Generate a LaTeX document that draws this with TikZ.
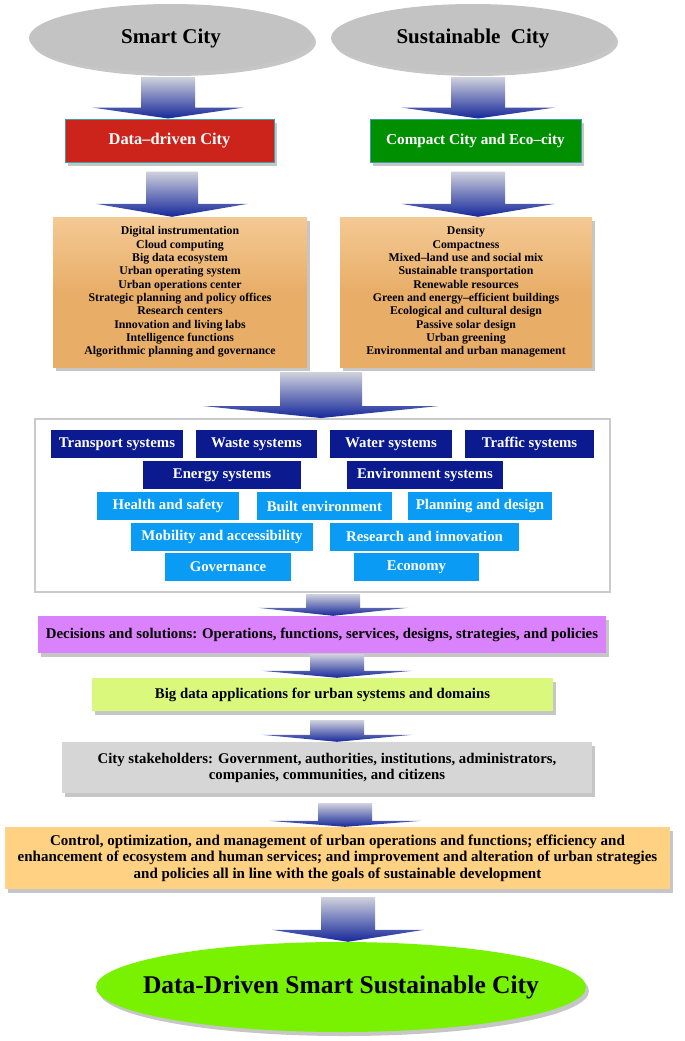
\documentclass[tikz,border=0pt]{standalone}
\usepackage{fontspec}
\setmainfont{Liberation Serif}
\usetikzlibrary{shapes.geometric,shadows,calc}

\definecolor{ellgray}{HTML}{C3C3C3}
\definecolor{ddred}{HTML}{CC231A}
\definecolor{ccgreen}{HTML}{008F00}
\definecolor{boxedge}{HTML}{3AA0A8}
\definecolor{orngtop}{HTML}{F4C994}
\definecolor{orngbot}{HTML}{E8AE68}
\definecolor{navy}{HTML}{0B1A8E}
\definecolor{skyblue}{HTML}{0A9BF5}
\definecolor{lilac}{HTML}{D982FB}
\definecolor{lime}{HTML}{DAF97C}
\definecolor{stonegray}{HTML}{D6D6D6}
\definecolor{sand}{HTML}{FED282}
\definecolor{lawn}{HTML}{78F200}
\definecolor{arrtop}{HTML}{CFD1DD}
\definecolor{arrbot}{HTML}{16289A}
\definecolor{framegray}{HTML}{C9C9CE}

\tikzset{
	dropsh/.style={drop shadow={shadow xshift=3pt, shadow yshift=-4pt, opacity=0.45}},
	city/.style={ellipse, fill=ellgray, inner sep=0pt, font=\fontsize{21}{24}\selectfont\bfseries, dropsh},
	citybox/.style={rectangle, draw=boxedge, line width=1pt, text=white, inner sep=0pt, minimum width=#1, minimum height=43pt, dropsh},
	listbox/.style={rectangle, top color=orngtop, bottom color=orngbot, middle color=orngbot, inner sep=0pt, minimum height=150pt, align=center, font=\fontsize{11.8}{13.3}\selectfont\bfseries, dropsh},
	sysdark/.style={rectangle, fill=navy, text=white, inner sep=0pt, minimum width=#1, minimum height=28pt, font=\fontsize{14.8}{16}\selectfont\bfseries},
	syslight/.style={sysdark=#1, fill=skyblue},
	stepbox/.style={rectangle, inner sep=0pt, align=center, font=\fontsize{14.8}{16.5}\selectfont\bfseries, dropsh},
}

% block arrow: x, from, gap, to, half shaft, half head, head length
\newcommand{\flowarrow}[7]{%
	\shade[top color=arrtop, bottom color=arrbot] let \p1=(#2), \p2=(#4) in
		(#1pt-#5pt,\y1-#3pt) -- (#1pt+#5pt,\y1-#3pt) -- (#1pt+#5pt,\y2+#7pt) -- (#1pt+#6pt,\y2+#7pt)
		-- (#1pt,\y2) -- (#1pt-#6pt,\y2+#7pt) -- (#1pt-#5pt,\y2+#7pt) -- cycle;}

\begin{document}
\begin{tikzpicture}[x=1pt, y=-1pt]
	\useasboundingbox (0,0) rectangle (685,1041);

	% sources
	\node[city, minimum width=284pt, minimum height=68pt] (smart) at (171,38) {Smart City};
	\node[city, minimum width=284pt, minimum height=68pt] (sust) at (473,38) {Sustainable\ \ City};

	\node[citybox=209pt, fill=ddred, font=\fontsize{16.4}{18}\selectfont\bfseries] (ddc) at (169.5,140.5) {Data--driven City};
	\node[citybox=211pt, fill=ccgreen, font=\fontsize{15.2}{18}\selectfont\bfseries] (compact) at (475.5,140.5) {Compact City and Eco--city};

	\node[listbox, minimum width=254pt] (tech) at (180,292) {Digital instrumentation\\Cloud computing\\Big data ecosystem\\Urban operating system\\Urban operations center\\Strategic planning and policy offices\\Research centers\\Innovation and living labs\\Intelligence functions\\Algorithmic planning and governance};
	\node[listbox, minimum width=252pt] (eco) at (466,292) {Density\\Compactness\\Mixed--land use and social mix\\Sustainable transportation\\Renewable resources\\Green and energy--efficient buildings\\Ecological and cultural design\\Passive solar design\\Urban greening\\Environmental and urban management};

	% urban systems and domains
	\node[rectangle, draw=framegray, line width=2pt, fill=white, minimum width=575pt, minimum height=173pt, inner sep=0pt] (domains) at (322.5,505.5) {};
	\node[sysdark=132pt] (transport) at (117,444) {Transport systems};
	\node[sysdark=121pt] (waste) at (256.5,444) {Waste systems};
	\node[sysdark=122pt] (water) at (391,444) {Water systems};
	\node[sysdark=129pt] (traffic) at (529.5,444) {Traffic systems};
	\node[sysdark=158pt] (energy) at (222,475) {Energy systems};
	\node[sysdark=156pt] (environ) at (425,475) {Environment systems};
	\node[syslight=142pt] (health) at (168,506) {Health and safety};
	\node[syslight=135pt] (built) at (324.5,506) {Built environment};
	\node[syslight=144pt] (planning) at (480,506) {Planning and design};
	\node[syslight=182pt] (mobility) at (222,536.5) {Mobility and accessibility};
	\node[syslight=189pt] (research) at (424.5,536.5) {Research and innovation};
	\node[syslight=126pt] (governance) at (228,567) {Governance};
	\node[syslight=125pt] (economy) at (416.5,567) {Economy};

	% outcomes
	\node[stepbox, fill=lilac, minimum width=568pt, minimum height=37pt] (decide) at (322,634.5) {Decisions and solutions: Operations, functions, services, designs, strategies, and policies};
	\node[stepbox, fill=lime, minimum width=461pt, minimum height=33pt] (bigdata) at (322.5,694.5) {Big data applications for urban systems and domains};
	\node[stepbox, fill=stonegray, minimum width=530pt, minimum height=51pt, font=\fontsize{14.8}{16}\selectfont\bfseries] (stake) at (327,767.5) {City stakeholders: Government, authorities, institutions, administrators,\\companies, communities, and citizens};
	\node[stepbox, fill=sand, minimum width=665pt, minimum height=62pt, font=\fontsize{15}{16.5}\selectfont\bfseries] (control) at (337.5,858) {Control, optimization, and management of urban operations and functions; efficiency and\\enhancement of ecosystem and human services; and improvement and alteration of urban strategies\\and policies all in line with the goals of sustainable development};

	\node[ellipse, fill=lawn, inner sep=0pt, minimum width=490pt, minimum height=90pt, font=\fontsize{25.5}{28}\selectfont\bfseries, dropsh] (ddssc) at (341,987) {\makebox[0pt][c]{Data-Driven Smart Sustainable City}};

	% arrows
	\flowarrow{168}{smart.south}{5}{ddc.north}{27}{76}{11}
	\flowarrow{478}{sust.south}{5}{compact.north}{27}{77}{11}
	\flowarrow{172}{ddc.south}{9}{tech.north}{26}{76}{13}
	\flowarrow{478}{compact.south}{9}{eco.north}{27}{77}{13}
	\flowarrow{321}{tech.south}{5}{domains.north}{41}{118}{12}
	\flowarrow{333}{domains.south}{1}{decide.north}{27}{75}{8}
	\flowarrow{337}{decide.south}{1}{bigdata.north}{27}{75}{7}
	\flowarrow{337}{bigdata.south}{9}{stake.north}{27}{75}{7}
	\flowarrow{345}{stake.south}{10}{control.north}{27}{76}{6}
	\flowarrow{348}{control.south}{8}{ddssc.north}{27}{76}{12}
\end{tikzpicture}
\end{document}
